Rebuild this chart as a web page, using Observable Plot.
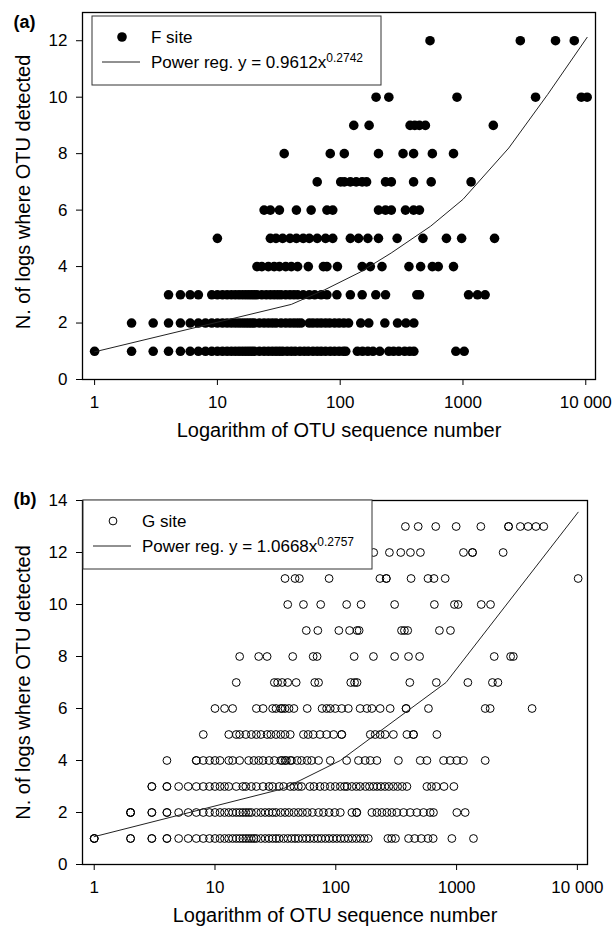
<!DOCTYPE html>
<html>
<head>
<meta charset="utf-8">
<script src="https://cdn.jsdelivr.net/npm/d3@7"></script>
<script src="https://cdn.jsdelivr.net/npm/@observablehq/plot@0.6"></script>
<style>
html, body { margin: 0; padding: 0; background: #fff; }
#chart { width: 614px; height: 934px; position: relative; }
#chart svg { display: block; }
</style>
</head>
<body>
<div id="chart"></div>
<script>
// ---------- shared labels / ticks ----------
const xTicks = [1, 10, 100, 1000, 10000];
const xTickLabels = ["1", "10", "100", "1000", "10 000"];
const yTicksF = [0, 2, 4, 6, 8, 10, 12];
const yTicksG = [0, 2, 4, 6, 8, 10, 12, 14];
const xTitle = "Logarithm of OTU sequence number";
const yTitle = "N. of logs where OTU detected";

// ---------- (a) F site : OTU sequence numbers per "number of logs" row ----------
const F1 = [1, 2, 3, 4, 5, 6, 7, 8, 9, 10, 11, 12, 13, 14, 15, 16, 17, 18, 19, 20, 22, 24, 26, 28, 30, 32, 34, 37, 40, 43, 47, 51, 55, 60, 65, 70, 76, 83, 90, 98, 106, 111, 138, 152, 168, 185, 210, 249, 272, 300, 335, 368, 398, 875, 1023];
const F2 = [2, 3, 4, 5, 6, 7, 8, 9, 10, 11, 12, 13, 14, 15, 16, 17, 18, 19, 20, 22, 24, 26, 28, 30, 33, 36, 39, 42, 45, 48, 56, 60, 65, 70, 76, 82, 90, 98, 107, 117, 147, 171, 231, 293, 343, 398];
const F3 = [4, 5, 6, 7, 9, 10, 11, 12, 13, 14, 15, 16, 17, 18, 19, 20, 21, 23, 25, 27, 29, 31, 33, 36, 39, 42, 45, 50, 56, 62, 70, 78, 94, 121, 151, 195, 234, 421, 443, 1110, 1313, 1515];
const F4 = [21, 23, 26, 29, 32, 36, 40, 45, 55, 73, 78, 95, 151, 176, 219, 363, 452, 563, 629, 837];
const F5 = [10, 27, 30, 34, 39, 44, 50, 56, 65, 76, 87, 121, 141, 168, 205, 291, 472, 733, 975, 1807];
const F6 = [24, 27, 32, 44, 58, 78, 87, 205, 234, 261, 340, 396, 442];
const F7 = [65, 101, 108, 121, 135, 151, 164, 234, 261, 396, 551, 1164];
const F8 = [35, 83, 108, 205, 325, 396, 563, 837];
const F9 = [129, 172, 371, 405, 442, 494, 1766];
const F10 = [196, 249, 894, 3900, 9200, 10260];
const F11 = [];
const F12 = [539, 2930, 5670, 8060];
const fRows = [F1, F2, F3, F4, F5, F6, F7, F8, F9, F10, F11, F12];
// power regression line as drawn (vertices)
const fitF_x = [1, 40, 75, 145, 260, 545, 1000, 2360, 4900, 10260];
const fitF_y = [0.98, 2.66, 3.18, 3.8, 4.48, 5.43, 6.38, 8.2, 10.1, 12.12];
const legendF = ["F site", "Power reg. y = 0.9612x", "0.2742"];

// ---------- (b) G site ----------
const G1 = [1, 1, 1, 2, 2, 3, 3, 4, 4, 5, 6, 7, 8, 9, 10, 11, 12, 13, 14, 15, 16, 17, 18, 19, 20, 21, 22, 24, 26, 28, 30, 32, 34, 37, 40, 43, 46, 49, 53, 57, 61, 66, 71, 76, 82, 88, 95, 102, 110, 118, 127, 137, 148, 160, 172, 186, 270, 290, 312, 400, 450, 510, 580, 640, 914, 1380];
const G2 = [2, 2, 2, 3, 3, 4, 4, 5, 6, 7, 8, 9, 10, 11, 12, 13, 14, 15, 16, 17, 18, 19, 20, 22, 24, 26, 28, 30, 32, 35, 38, 41, 45, 49, 53, 58, 64, 72, 79, 88, 98, 109, 136, 149, 149, 199, 219, 241, 265, 291, 320, 364, 413, 469, 533, 604, 644, 1005, 1178];
const G3 = [3, 3, 4, 4, 5, 6, 7, 8, 9, 10, 11, 12, 13, 15, 17, 18, 20, 22, 25, 28, 30, 34, 37, 42, 45, 49, 52, 61, 66, 74, 81, 90, 99, 109, 118, 124, 136, 148, 159, 176, 190, 205, 220, 236, 255, 275, 300, 325, 355, 388, 568, 620, 680, 787, 950];
const G4 = [4, 7, 7, 8, 9, 10, 11, 13, 14, 16, 19, 21, 23, 25, 28, 31, 35, 36, 38, 39, 42, 43, 48, 52, 58, 63, 72, 90, 123, 154, 175, 193, 219, 330, 500, 568, 780, 885, 1005, 1140, 1726];
const G5 = [8, 13, 15, 16, 18, 20, 22, 24, 27, 29, 32, 35, 38, 42, 54, 59, 65, 74, 84, 96, 112, 112, 193, 212, 233, 256, 300, 388, 440, 440, 687];
const G6 = [10, 12, 14, 22, 25, 30, 32, 35, 36, 38, 41, 45, 58, 77, 84, 90, 99, 112, 127, 159, 181, 199, 233, 282, 382, 382, 585, 1726, 1897, 4217];
const G7 = [15, 31, 33, 36, 40, 47, 67, 72, 133, 143, 150, 410, 680, 1240, 1980, 2200];
const G8 = [16, 23, 27, 44, 65, 70, 142, 205, 307, 400, 494, 2050, 2800, 2950];
const G9 = [57, 71, 106, 130, 150, 156, 350, 370, 394, 721, 890];
const G10 = [40, 54, 75, 123, 162, 307, 655, 960, 1030, 1600, 1910];
const G11 = [38, 46, 50, 88, 232, 262, 262, 420, 580, 650, 805, 10150];
const G12 = [206, 278, 345, 415, 502, 1140, 1355, 1355, 2430];
const G13 = [377, 481, 672, 992, 1588, 2692, 2692, 3370, 3910, 4540, 5270];
const gRows = [G1, G2, G3, G4, G5, G6, G7, G8, G9, G10, G11, G12, G13];
const fitG_x = [1, 37, 109, 818, 10150];
const fitG_y = [1.07, 2.92, 4.0, 7.0, 13.55];
const legendG = ["G site", "Power reg. y = 1.0668x", "0.2757"];

// ---------- drawing ----------
const FONT = "'Liberation Sans', Arial, Helvetica, sans-serif";

function makePanel(cfg) {
  const pts = cfg.rows.flatMap((row, i) => row.map(v => ({seq: v, logs: i + 1})));
  const fit = cfg.fitX.map((v, i) => ({seq: v, logs: cfg.fitY[i]}));
  const dotOpts = cfg.hollow
    ? {x: "seq", y: "logs", r: 3.9, fill: "none", stroke: "#000", strokeWidth: 1}
    : {x: "seq", y: "logs", r: 4.8, fill: "#000"};
  const svg = Plot.plot({
    width: 614,
    height: cfg.height,
    marginLeft: 82,
    marginRight: cfg.marginRight,
    marginTop: cfg.marginTop,
    marginBottom: cfg.marginBottom,
    style: {fontFamily: FONT, fontSize: "17px", color: "#000", background: "#fff", overflow: "visible"},
    x: {type: "log", domain: cfg.xDomain, ticks: xTicks,
        tickFormat: d => xTickLabels[xTicks.indexOf(d)], tickSize: 6, tickPadding: 10, label: null},
    y: {domain: [0, cfg.yMax], ticks: cfg.yTicks, tickSize: 6, tickPadding: 9, label: null},
    marks: [
      Plot.dot(pts, dotOpts),
      Plot.line(fit, {x: "seq", y: "logs", stroke: "#222", strokeWidth: 1}),
      Plot.frame({stroke: "#000", strokeWidth: 1.3}),
      Plot.text([xTitle], {text: d => d, frameAnchor: "bottom", lineAnchor: "middle", dy: 51, fontSize: 20}),
      Plot.text([yTitle], {text: d => d, frameAnchor: "left", textAnchor: "middle", lineAnchor: "middle",
                            rotate: -90, dx: -58.5, dy: cfg.yTitleDy, fontSize: 20}),
      Plot.text([cfg.tag], {text: d => d, frameAnchor: "top-left", textAnchor: "start", lineAnchor: "middle",
                            dx: -69, dy: cfg.tagDy, fontSize: 18, fontWeight: "bold"})
    ]
  });
  // legend box (drawn above the points, as in the original)
  const g = d3.select(svg).append("g")
    .attr("transform", `translate(${cfg.legendX},${cfg.legendY})`)
    .attr("font-family", FONT).attr("font-size", 17).attr("fill", "#000")
    .attr("text-anchor", "start");
  g.append("rect").attr("width", 289).attr("height", 69)
    .attr("fill", "#fff").attr("stroke", "#333").attr("stroke-width", 1);
  if (cfg.hollow) {
    g.append("circle").attr("cx", 30).attr("cy", 21).attr("r", 3.9)
      .attr("fill", "none").attr("stroke", "#000");
  } else {
    g.append("circle").attr("cx", 30).attr("cy", 21).attr("r", 4.8).attr("fill", "#000");
  }
  g.append("line").attr("x1", 10).attr("x2", 48).attr("y1", 46).attr("y2", 46)
    .attr("stroke", "#222").attr("stroke-width", 1);
  g.append("text").attr("x", 59).attr("y", 21).attr("dy", "0.36em")
    .attr("text-anchor", "start").text(cfg.legend[0]);
  const t2 = g.append("text").attr("x", 59).attr("y", 46).attr("dy", "0.36em")
    .attr("text-anchor", "start");
  t2.append("tspan").text(cfg.legend[1]);
  t2.append("tspan").attr("dy", "-0.5em").attr("font-size", 12).text(cfg.legend[2]);
  return svg;
}

const chart = document.getElementById("chart");
chart.appendChild(makePanel({
  rows: fRows, fitX: fitF_x, fitY: fitF_y, hollow: false,
  height: 450, marginTop: 12, marginBottom: 71, marginRight: 19,
  xDomain: [0.797, 12000], yMax: 13, yTicks: yTicksF,
  tag: "(a)", tagDy: 9.5, yTitleDy: -4,
  legend: legendF, legendX: 92, legendY: 16
}));
chart.appendChild(makePanel({
  rows: gRows, fitX: fitG_x, fitY: fitG_y, hollow: true,
  height: 484, marginTop: 50, marginBottom: 70, marginRight: 27,
  xDomain: [0.8, 12130], yMax: 14, yTicks: yTicksG,
  tag: "(b)", tagDy: -1, yTitleDy: 0,
  legend: legendG, legendX: 83, legendY: 500 - 450
}));
</script>
</body>
</html>
